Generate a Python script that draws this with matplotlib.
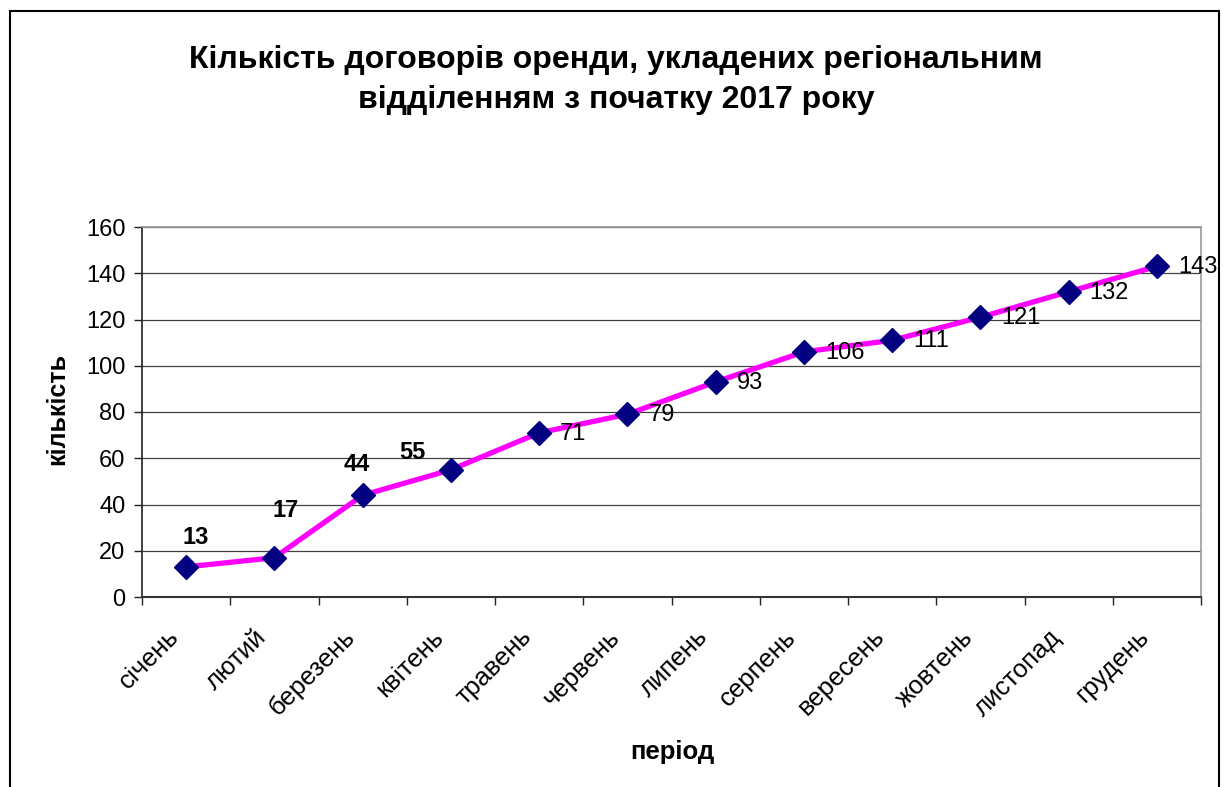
import matplotlib
matplotlib.use("Agg")
import matplotlib.pyplot as plt
from matplotlib.patches import Rectangle
from matplotlib.transforms import ScaledTranslation
import numpy as np

plt.rcParams['font.family'] = ['Liberation Sans', 'DejaVu Sans']

months = ["січень", "лютий", "березень", "квітень", "травень", "червень",
          "липень", "серпень", "вересень", "жовтень", "листопад", "грудень"]
values = [13, 17, 44, 55, 71, 79, 93, 106, 111, 121, 132, 143]
yticks = [0, 20, 40, 60, 80, 100, 120, 140, 160]
title = "Кількість договорів оренди, укладених регіональним\nвідділенням з початку 2017 року"
xlabel = "період"
ylabel = "кількість"

# label placement (pixel offsets from point)
bold_offsets = {0: (10, 29), 1: (11, 47), 2: (-6, 31), 3: (-39, 17)}

W, H = 1229, 787
fig = plt.figure(figsize=(W / 100, H / 100), dpi=100)
fig.patch.set_facecolor('white')

# outer chart frame
fig.add_artist(Rectangle((10 / W, -0.05), (1219 - 10) / W, 1 - 11 / H + 0.05,
                         transform=fig.transFigure, fill=False,
                         edgecolor='black', linewidth=1.5))

ax = fig.add_axes([142 / W, 190 / H, (1201 - 142) / W, (597 - 227) / H])
x = np.arange(len(months))
ax.plot(x, values, color='#FF00FF', linewidth=3.8, zorder=3,
        marker='D', markersize=12.5, markerfacecolor='#000080',
        markeredgecolor='#000080', clip_on=False)

ax.set_xlim(-0.5, len(months) - 0.5)
ax.set_ylim(0, 160)
ax.set_yticks(yticks)
ax.set_yticklabels([str(v) for v in yticks], fontsize=17)
ax.set_xticks(x)
ax.set_xticklabels(months, fontsize=18.5, rotation=45, ha='right', va='top',
                   rotation_mode='anchor')
ax.tick_params(axis='x', which='major', length=0, pad=20)
shift = ScaledTranslation(-20 / 100, 0, fig.dpi_scale_trans)
for lbl in ax.get_xticklabels():
    lbl.set_transform(lbl.get_transform() + shift)
ax.set_xticks(np.arange(-0.5, len(months), 1.0), minor=True)
ax.tick_params(axis='x', which='minor', length=6, width=1, color='#222222', direction='out')
ax.tick_params(axis='y', which='major', length=6, width=1, color='#222222', direction='out', pad=6)

ax.grid(axis='y', color='#404040', linewidth=0.9, zorder=0)
ax.set_axisbelow(True)
for s in ['top', 'right']:
    ax.spines[s].set_color('#999999')
    ax.spines[s].set_linewidth(1.2)
ax.spines['left'].set_color('#222222')
ax.spines['bottom'].set_color('#333333')
ax.spines['left'].set_linewidth(1.2)
ax.spines['bottom'].set_linewidth(1.5)

for i, v in enumerate(values):
    if i in bold_offsets:
        dx, dy = bold_offsets[i]
        ax.annotate(str(v), (x[i], v), xytext=(dx * 0.72, dy * 0.72),
                    textcoords='offset points', ha='center', va='center',
                    fontsize=17, fontweight='bold', annotation_clip=False)
    else:
        ax.annotate(str(v), (x[i], v), xytext=(21 * 0.72, -1 * 0.72),
                    textcoords='offset points', ha='left', va='center',
                    fontsize=17, annotation_clip=False)

fig.text(616 / W, 1 - 80 / H, title, ha='center', va='center', fontsize=23,
         fontweight='bold', linespacing=1.45)
fig.text(672 / W, 1 - 752 / H, xlabel, ha='center', va='center', fontsize=18.5,
         fontweight='bold')
fig.text(57 / W, 1 - 409 / H, ylabel, ha='center', va='center', fontsize=18,
         fontweight='bold', rotation=90)

fig.savefig('out.png', dpi=100)
